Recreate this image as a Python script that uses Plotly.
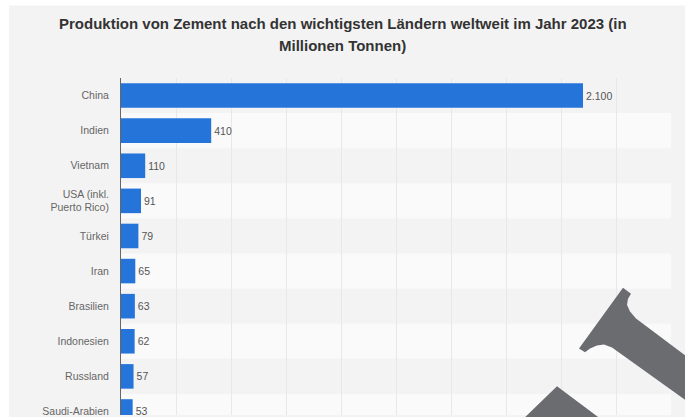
import plotly.graph_objects as go

countries = ["China", "Indien", "Vietnam", "USA (inkl.<br>Puerto Rico)", "Türkei", "Iran",
             "Brasilien", "Indonesien", "Russland", "Saudi-Arabien"]
production = [2100, 410, 110, 91, 79, 65, 63, 62, 57, 53]
value_labels = ["2.100", "410", "110", "91", "79", "65", "63", "62", "57", "53"]

title_lines = ["Produktion von Zement nach den wichtigsten Ländern weltweit im Jahr 2023 (in",
               "Millionen Tonnen)"]

W, H = 685, 417
L, R, T, B = 121, 14, 78, 0
pw, ph = W - L - R, H - T - B

FONT = "Liberation Sans, Arial, sans-serif"

def xp(px):
    return (px - L) / pw

def yp(py):
    return (H - B - py) / ph

def path(points):
    return "M " + " L ".join(f"{xp(x):.5f},{yp(y):.5f}" for x, y in points) + " Z"

fig = go.Figure()
fig.add_trace(go.Bar(
    x=production, y=countries, orientation="h",
    marker=dict(color="#2574d9", line=dict(width=0)),
    width=0.7,
    text=value_labels, textposition="outside",
    textfont=dict(family=FONT, size=10.5, color="#555555"),
    cliponaxis=False, hoverinfo="skip",
))

shapes = []
# outer light-gray panel (white strips on left and top)
shapes.append(dict(type="rect", xref="paper", yref="paper", layer="below",
                   x0=xp(9), x1=xp(W + 5), y0=yp(H + 5), y1=yp(5),
                   fillcolor="#f3f3f3", line=dict(width=0)))
# alternating row bands
for i in range(len(countries)):
    if i % 2 == 1:
        shapes.append(dict(type="rect", xref="paper", yref="y", layer="below",
                           x0=0, x1=1, y0=i - 0.5, y1=i + 0.5,
                           fillcolor="#fafafa", line=dict(width=0)))
# overlay graphic in the lower right
shapes.append(dict(type="path", xref="paper", yref="paper", layer="above",
                   path=path([(623, 289), (631, 295), (628, 300), (627, 306), (630, 313), (636, 320),
                              (705, 372), (705, 416), (612, 349), (604, 346), (597, 347), (590, 350),
                              (585, 354), (579, 350)]),
                   fillcolor="#6b6c70", line=dict(width=0)))
shapes.append(dict(type="path", xref="paper", yref="paper", layer="above",
                   path=path([(557, 388), (610, 428), (514, 430)]),
                   fillcolor="#6b6c70", line=dict(width=0)))

annotations = []
for line, cy in zip(title_lines, [23, 45]):
    annotations.append(dict(text=f"<b>{line}</b>", xref="paper", yref="paper",
                            x=xp(342.5), y=yp(cy), xanchor="center", yanchor="middle",
                            showarrow=False,
                            font=dict(family=FONT, size=15, color="#333333")))

fig.update_layout(
    width=W, height=H,
    margin=dict(l=L, r=R, t=T, b=B),
    paper_bgcolor="#ffffff", plot_bgcolor="rgba(0,0,0,0)",
    showlegend=False,
    shapes=shapes,
    annotations=annotations,
    xaxis=dict(range=[0, 2500], dtick=250, tick0=0, showticklabels=False,
               showgrid=True, gridcolor="#e8e8e8", gridwidth=1, zeroline=False,
               showline=False, fixedrange=True),
    yaxis=dict(range=[9.1, -0.5], showgrid=False, zeroline=False,
               showline=True, linecolor="#666666", linewidth=1,
               ticks="outside", ticklen=9, tickcolor="rgba(0,0,0,0)",
               tickfont=dict(family=FONT, size=10.5, color="#666666"),
               fixedrange=True),
)

fig.write_html("out.html",
               config={"displayModeBar": False, "staticPlot": True},
               post_script="document.body.style.margin='0';document.body.style.overflow='hidden';")
